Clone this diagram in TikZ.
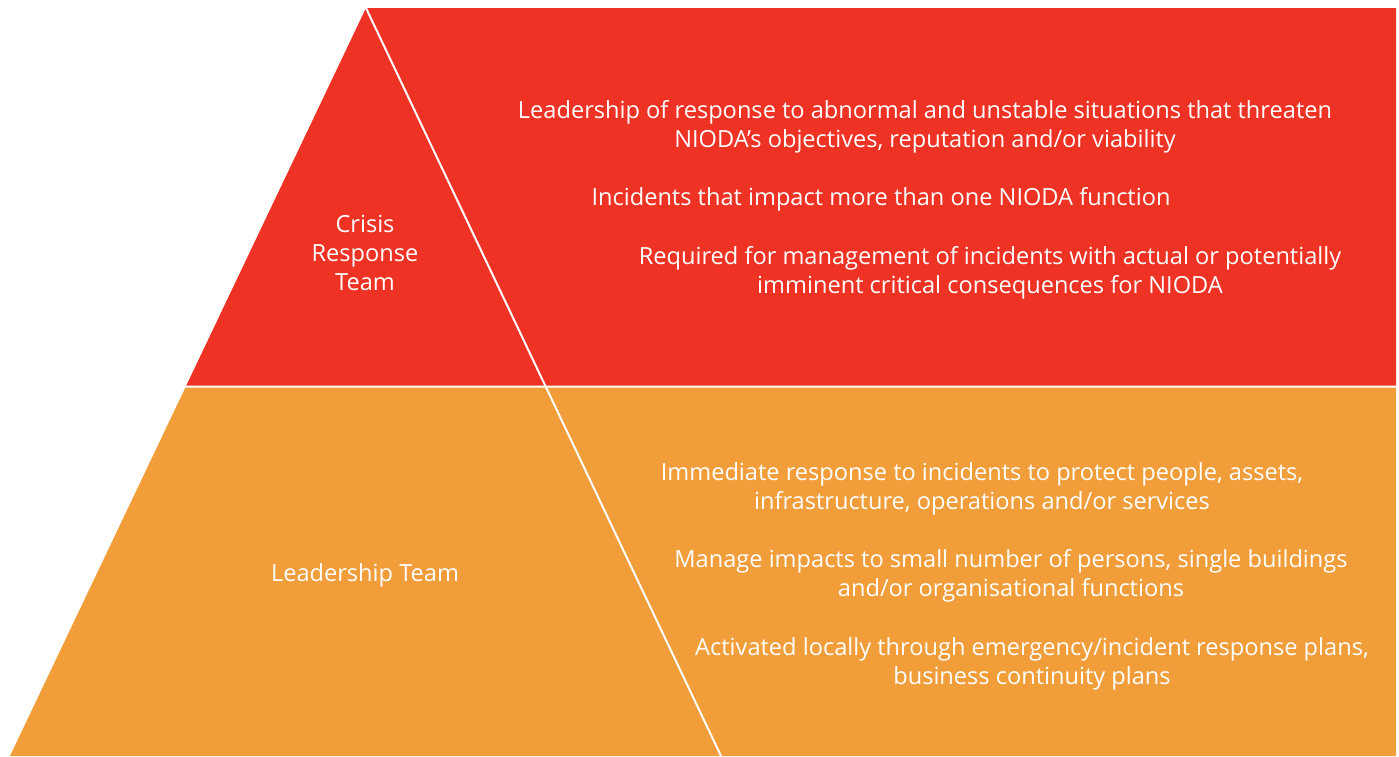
\documentclass[tikz,border=0pt]{standalone}
\usepackage{fontspec}
\setmainfont{Open Sans}
\definecolor{crisisred}{RGB}{238,50,36}
\definecolor{leadorange}{RGB}{240,157,58}
\begin{document}
\begin{tikzpicture}[x=1pt,y=-1pt,
  txt/.style={text=white, align=center, font=\fontsize{23.6}{29}\selectfont, inner sep=0pt},
  divider/.style={draw=white, line width=2pt}]
\useasboundingbox (0,0) rectangle (1399,756);
\coordinate (apex) at (366,8);
\coordinate (botleft) at (10,756);
\coordinate (botmid) at (721,756);
\fill[crisisred] (apex) -- (1396,8) -- (1396,385.5) -- (186.3,385.5) -- cycle;
\fill[leadorange] (185.4,387.5) -- (1396,387.5) -- (1396,756) -- (botleft) -- cycle;
\draw[divider] (apex) -- (botmid);
\node[txt] (crt) at (365,253) {Crisis\\Response\\Team};
\node[txt] (lt) at (365,575) {Leadership Team};
\node[txt] (r1) at (925,126.5) {Leadership of response to abnormal and unstable situations that threaten\\NIODA’s objectives, reputation and/or viability};
\node[txt] (r2) at (881,199.5) {Incidents that impact more than one NIODA function};
\node[txt] (r3) at (990,273) {Required for management of incidents with actual or potentially\\imminent critical consequences for NIODA};
\node[txt] (o1) at (982,489) {Immediate response to incidents to protect people, assets,\\infrastructure, operations and/or services};
\node[txt] (o2) at (1011,576) {Manage impacts to small number of persons, single buildings\\and/or organisational functions};
\node[txt] (o3) at (1032,664) {Activated locally through emergency/incident response plans,\\business continuity plans};
\end{tikzpicture}
\end{document}
